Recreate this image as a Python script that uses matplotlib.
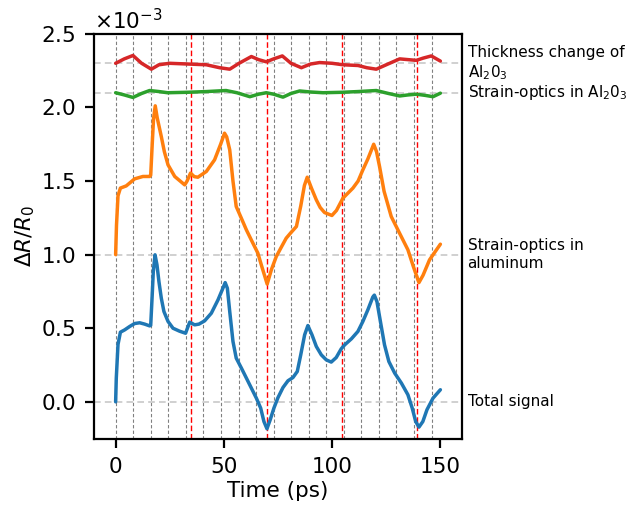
import matplotlib
matplotlib.use("Agg")
import matplotlib.pyplot as plt
import numpy as np

# ---- data (values in units of 1e-3) ----
t_total = [0, 0.3, 1.1, 2.2, 4.2, 6.5, 8.8, 11.1, 13.4, 15.7, 16.2, 16.9, 17.4, 18.2, 19.1, 20.0,
           21.1, 22.3, 24.2, 26.5, 29.5, 32.3, 34.2, 36.5, 38.5, 41.1, 44.2, 47.3, 49.5, 50.6, 51.6,
           52.7, 54.2, 55.7, 58.1, 60.4, 62.7, 65.0, 67.0, 68.5, 69.9, 71.4, 73.1, 75.0, 77.3, 79.6,
           81.9, 83.9, 85.5, 87.3, 88.8, 90.7, 92.7, 95.0, 97.3, 99.6, 101.9, 104.2, 105.8, 108.9,
           111.9, 114.2, 116.5, 118.8, 119.5, 120.7, 122.3, 124.2, 126.2, 128.9, 132.0, 135.0, 137.0,
           138.6, 140.1, 141.9, 143.8, 146.6, 150.0]
v_total = [0, 0.16, 0.39, 0.473, 0.489, 0.512, 0.532, 0.537, 0.528, 0.516, 0.52, 0.727, 0.885, 0.999,
           0.93, 0.817, 0.704, 0.614, 0.546, 0.50, 0.48, 0.466, 0.541, 0.523, 0.528, 0.55, 0.602,
           0.693, 0.77, 0.81, 0.772, 0.614, 0.41, 0.297, 0.229, 0.161, 0.093, 0.025, -0.043, -0.134,
           -0.183, -0.122, -0.043, 0.029, 0.097, 0.143, 0.165, 0.206, 0.319, 0.455, 0.518, 0.455,
           0.376, 0.319, 0.285, 0.27, 0.301, 0.36, 0.387, 0.428, 0.478, 0.546, 0.625, 0.712, 0.725,
           0.681, 0.546, 0.387, 0.274, 0.195, 0.127, 0.048, -0.043, -0.134, -0.172, -0.134, -0.054,
           0.025, 0.082]

t_al = [0, 0.4, 1.1, 2.2, 4.9, 8.8, 12.6, 15.7, 16.2, 16.9, 17.5, 18.3, 19.2, 21.1, 22.5, 24.2, 27.3,
        31.9, 33.0, 34.6, 36.3, 38.0, 41.9, 45.7, 48.5, 50.3, 51.3, 52.7, 54.2, 55.7, 58.0, 60.4,
        63.0, 65.7, 67.5, 70.0, 72.0, 74.2, 76.5, 78.8, 81.0, 83.5, 85.5, 87.2, 88.5, 90.5, 92.7,
        94.5, 96.5, 99.9, 102.0, 105.0, 109.6, 112.0, 114.2, 116.5, 119.2, 120.5, 121.9, 124.0,
        127.3, 131.0, 135.0, 137.5, 140.1, 142.0, 145.0, 150.0]
v_al = [0, 0.2, 0.40, 0.452, 0.467, 0.515, 0.531, 0.531, 0.54, 0.75, 0.92, 1.011, 0.93, 0.802, 0.70,
        0.61, 0.531, 0.474, 0.50, 0.554, 0.53, 0.526, 0.565, 0.644, 0.75, 0.825, 0.80, 0.712, 0.50,
        0.327, 0.25, 0.168, 0.09, 0.01, -0.08, -0.20, -0.10, -0.013, 0.05, 0.112, 0.15, 0.191, 0.33,
        0.47, 0.526, 0.45, 0.372, 0.32, 0.286, 0.266, 0.30, 0.384, 0.452, 0.5, 0.576, 0.65, 0.75,
        0.70, 0.599, 0.43, 0.259, 0.15, 0.033, -0.08, -0.19, -0.14, -0.035, 0.071]

t_al2o3 = [0, 4, 8, 12, 15.7, 20, 24, 33, 42, 51, 56, 62, 66, 69.6, 73, 77.3, 81, 85, 90, 95.8,
           104.6, 112, 120.4, 126, 131.2, 135, 138.9, 143, 146.6, 150]
v_al2o3 = [0, -0.015, -0.032, -0.005, 0.015, 0.008, 0.0, 0.003, 0.008, 0.015, 0.0, -0.027, -0.01,
           0.0, -0.01, -0.03, -0.005, 0.012, 0.005, 0.0, 0.003, 0.008, 0.015, -0.005, -0.022, -0.015,
           -0.01, -0.018, -0.027, -0.003]

t_thick = [0, 4, 8, 12, 16.5, 20, 24.9, 33.4, 41.9, 48, 52.7, 57, 62.7, 66, 69.6, 73, 77, 81, 85.8,
           90, 94.2, 100, 105, 112, 116, 120.4, 125, 131.2, 135, 138.9, 142, 145.8, 150]
v_thick = [0, 0.03, 0.053, 0.0, -0.04, -0.01, 0.0, -0.005, -0.01, -0.03, -0.04, 0.0, 0.046, 0.025,
           0.01, 0.03, 0.05, 0.0, -0.03, -0.005, 0.005, 0.0, -0.01, -0.015, -0.03, -0.04, -0.01,
           0.03, 0.025, 0.02, 0.035, 0.05, 0.015]

offsets = [0.0, 1.0, 2.1, 2.3]
labels = ["Total signal", "Strain-optics in\naluminum", r"Strain-optics in Al$_2$0$_3$",
          "Thickness change of\nAl$_2$0$_3$"]
colors = ["tab:blue", "tab:orange", "tab:green", "tab:red"]

gray_times = [0, 8.1, 16.2, 24.3, 32.4, 40.5, 48.7, 56.8, 64.9, 73.0, 81.1, 89.2, 97.3, 105.4,
              113.5, 121.6, 129.7, 137.9, 146.0]
red_times = [34.9, 69.7, 104.6, 139.4]

x_ticks = [0, 50, 100, 150]
y_ticks = [0.0, 0.5, 1.0, 1.5, 2.0, 2.5]

scale = 1e-3

fig = plt.figure(figsize=(6.35, 5.13), dpi=100)
ax = fig.add_axes([0.148, 0.145, 0.5796, 0.789])

for tg in gray_times:
    ax.axvline(tg, color="gray", ls="--", lw=0.8, dashes=(3, 2), zorder=1)
for tr in red_times:
    ax.axvline(tr, color="red", ls="--", lw=1.0, dashes=(4, 2), zorder=1.5)
for off in offsets:
    ax.axhline(off * scale, color="#c8c8c8", ls="--", lw=1.2, dashes=(4, 2.5), zorder=1)

series = [(t_total, v_total), (t_al, v_al), (t_al2o3, v_al2o3), (t_thick, v_thick)]
for (tt, vv), off, c in zip(series, offsets, colors):
    ax.plot(tt, (np.array(vv) + off) * scale, color=c, lw=2.5, zorder=3,
            solid_joinstyle="round", solid_capstyle="round")

trans = ax.get_yaxis_transform()
for off, lab in zip(offsets, labels):
    ax.text(1.015, off * scale, lab, transform=trans, fontsize=11, va="center", ha="left")

ax.set_xlim(-10, 160)
ax.set_ylim(-0.25e-3, 2.5e-3)
ax.set_xticks(x_ticks)
ax.set_yticks([y * scale for y in y_ticks])
ax.ticklabel_format(axis="y", style="sci", scilimits=(0, 0), useMathText=True)
ax.yaxis.get_offset_text().set_fontsize(15.5)
ax.tick_params(axis="both", labelsize=15.5, length=6.2, width=1.6, pad=7)
for s in ax.spines.values():
    s.set_linewidth(1.6)
ax.set_xlabel("Time (ps)", fontsize=15.5, labelpad=3)
ax.set_ylabel(r"$\Delta R/R_0$", fontsize=15.5, labelpad=3)

fig.savefig("out.png", dpi=100)
